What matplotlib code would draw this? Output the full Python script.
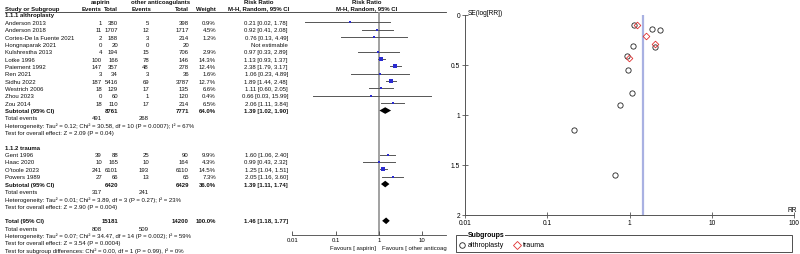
import matplotlib
matplotlib.use("Agg")
import matplotlib.pyplot as plt
from matplotlib.lines import Line2D

plt.rcParams['font.family'] = ['Liberation Sans', 'DejaVu Sans']

# data: althroplasty subgroup
studies_a = ["Anderson 2013", "Anderson 2018", "Cortes-De la Fuente 2021", "Hongnaparak 2021",
             "Kulshrestha 2013", "Lotke 1996", "Paiement 1992", "Ren 2021", "Sidhu 2022",
             "Westrich 2006", "Zhou 2023", "Zou 2014"]
ev_asp_a = [1, 11, 2, 0, 4, 100, 147, 3, 187, 18, 0, 18]
tot_asp_a = [380, 1707, 188, 20, 194, 166, 357, 34, 5416, 129, 60, 110]
ev_oth_a = [5, 12, 3, 0, 15, 78, 48, 3, 69, 17, 1, 17]
tot_oth_a = [398, 1717, 214, 20, 706, 146, 278, 36, 3787, 135, 120, 214]
weight_a = [0.9, 4.5, 1.2, None, 2.9, 14.3, 12.4, 1.6, 12.7, 6.6, 0.4, 6.5]
rr_a = [0.21, 0.92, 0.76, None, 0.97, 1.13, 2.38, 1.06, 1.89, 1.11, 0.66, 2.06]
lo_a = [0.02, 0.41, 0.13, None, 0.33, 0.93, 1.79, 0.23, 1.44, 0.60, 0.03, 1.11]
hi_a = [1.78, 2.08, 4.49, None, 2.89, 1.37, 3.17, 4.89, 2.48, 2.05, 15.99, 3.84]
se_a = [1.15, 0.41, 0.90, None, 0.55, 0.10, 0.15, 0.78, 0.14, 0.31, 1.60, 0.32]

# data: trauma subgroup
studies_t = ["Gent 1996", "Haac 2020", "O'toole 2023", "Powers 1989"]
ev_asp_t = [39, 10, 241, 27]
tot_asp_t = [88, 165, 6101, 66]
ev_oth_t = [25, 10, 193, 13]
tot_oth_t = [90, 164, 6110, 65]
weight_t = [9.9, 4.3, 14.5, 7.3]
rr_t = [1.60, 0.99, 1.25, 2.05]
lo_t = [1.06, 0.43, 1.04, 1.16]
hi_t = [2.40, 2.32, 1.51, 3.60]
se_t = [0.21, 0.43, 0.10, 0.29]

# pooled results: (row label, n aspirin, n other, weight, rr, lo, hi)
pooled = [("Subtotal (95% CI)", 8761, 7771, 64.0, 1.39, 1.02, 1.90),
          ("Subtotal (95% CI)", 6420, 6429, 36.0, 1.39, 1.11, 1.74),
          ("Total (95% CI)", 15181, 14200, 100.0, 1.46, 1.18, 1.77)]
pooled_events = [(491, 268), (317, 241), (808, 509)]
het_text = ["Heterogeneity: Tau² = 0.12; Chi² = 30.58, df = 10 (P = 0.0007); I² = 67%",
            "Heterogeneity: Tau² = 0.01; Chi² = 3.89, df = 3 (P = 0.27); I² = 23%",
            "Heterogeneity: Tau² = 0.07; Chi² = 34.47, df = 14 (P = 0.002); I² = 59%"]
effect_text = ["Test for overall effect: Z = 2.09 (P = 0.04)",
               "Test for overall effect: Z = 2.90 (P = 0.004)",
               "Test for overall effect: Z = 3.54 (P = 0.0004)"]
subgroup_text = "Test for subgroup differences: Chi² = 0.00, df = 1 (P = 0.99), I² = 0%"

forest_ticks = [0.01, 0.1, 1, 10]
funnel_xticks = [0.01, 0.1, 1, 10, 100]
funnel_yticks = [0, 0.5, 1, 1.5, 2]

# layout helpers (pixels)
FS = 4.3
Y0, DY = 16, 7.35


def ypix(row):
    return Y0 + DY * row


fig = plt.figure(figsize=(8, 2.55), dpi=100)
tab = fig.add_axes([0, 0, 1, 1])
tab.set_xlim(0, 800)
tab.set_ylim(255, 0)
tab.axis('off')


def txt(x, row, s, ha='left', bold=False):
    tab.text(x, ypix(row), s, ha=ha, va='center', fontsize=FS,
             fontweight='bold' if bold else 'normal', color='#111111')


# header
txt(101, -1.83, "aspirin", ha='center', bold=True)
txt(161, -1.83, "other anticoagulants", ha='center', bold=True)
txt(259, -1.83, "Risk Ratio", ha='center', bold=True)
txt(367, -1.83, "Risk Ratio", ha='center', bold=True)
txt(5, -0.95, "Study or Subgroup", bold=True)
txt(102, -0.95, "Events", ha='right', bold=True)
txt(118, -0.95, "Total", ha='right', bold=True)
txt(152, -0.95, "Events", ha='right', bold=True)
txt(189, -0.95, "Total", ha='right', bold=True)
txt(216, -0.95, "Weight", ha='right', bold=True)
txt(289, -0.95, "M-H, Random, 95% CI", ha='right', bold=True)
txt(367, -0.95, "M-H, Random, 95% CI", ha='center', bold=True)
tab.plot([5, 446], [12.7, 12.7], color='#333333', lw=0.6)

# forest axes
fax = fig.add_axes([292.4 / 800, (255 - 235.5) / 255, (446 - 292.4) / 800, (235.5 - 12.7) / 255])
fax.set_xscale('log')
fax.set_xlim(0.01, 35.2)
fax.set_ylim((235.5 - Y0) / DY, (12.7 - Y0) / DY)
fax.patch.set_visible(False)
for s in ['top', 'right', 'left']:
    fax.spines[s].set_visible(False)
fax.spines['bottom'].set_color('#444444')
fax.spines['bottom'].set_linewidth(0.6)
fax.set_yticks([])
fax.set_xticks(forest_ticks)
fax.set_xticklabels(["0.01", "0.1", "1", "10"])
fax.minorticks_off()
fax.tick_params(axis='x', direction='in', length=3, width=0.6, color='#444444',
                labelsize=FS, pad=2)
fax.axvline(1, color='#9a9a9a', lw=1.3, zorder=1)


def draw_block(start, names, ea, ta, eo, to, w, rr, lo, hi):
    for i, name in enumerate(names):
        r = start + i
        txt(5, r, name)
        txt(102, r, str(ea[i]), ha='right')
        txt(118, r, str(ta[i]), ha='right')
        txt(149, r, str(eo[i]), ha='right')
        txt(189, r, str(to[i]), ha='right')
        if rr[i] is None:
            txt(288, r, "Not estimable", ha='right')
            continue
        txt(216, r, "%.1f%%" % w[i], ha='right')
        txt(288, r, "%.2f [%.2f, %.2f]" % (rr[i], lo[i], hi[i]), ha='right')
        fax.plot([lo[i], hi[i]], [r, r], color='#555555', lw=0.7, zorder=2)
        fax.scatter([rr[i]], [r], marker='s', s=0.35 * w[i] + 0.8, color='#2a2ad0',
                    linewidths=0, zorder=3)


def draw_pooled(r, k):
    name, na, no, w, rr, lo, hi = pooled[k]
    txt(5, r, name, bold=True)
    txt(118, r, str(na), ha='right', bold=True)
    txt(189, r, str(no), ha='right', bold=True)
    txt(216, r, "%.1f%%" % w, ha='right', bold=True)
    txt(288, r, "%.2f [%.2f, %.2f]" % (rr, lo, hi), ha='right', bold=True)
    fax.fill([lo, rr, hi, rr], [r, r - 0.45, r, r + 0.45], color='black', lw=0, zorder=4)
    txt(5, r + 1, "Total events")
    txt(102, r + 1, str(pooled_events[k][0]), ha='right')
    txt(149, r + 1, str(pooled_events[k][1]), ha='right')
    txt(5, r + 2, het_text[k])
    txt(5, r + 3, effect_text[k])


txt(5, 0, "1.1.1 althroplasty", bold=True)
draw_block(1, studies_a, ev_asp_a, tot_asp_a, ev_oth_a, tot_oth_a, weight_a, rr_a, lo_a, hi_a)
draw_pooled(13, 0)
txt(5, 18, "1.1.2 trauma", bold=True)
draw_block(19, studies_t, ev_asp_t, tot_asp_t, ev_oth_t, tot_oth_t, weight_t, rr_t, lo_t, hi_t)
draw_pooled(23, 1)
draw_pooled(28, 2)
txt(5, 32, subgroup_text)

tab.text(376, 249, "Favours [ aspirin]", ha='right', va='center', fontsize=FS, color='#111111')
tab.text(382, 249, "Favours [ other anticoag", ha='left', va='center', fontsize=FS, color='#111111')

# funnel plot
fun = fig.add_axes([465 / 800, (255 - 215.5) / 255, (794 - 465) / 800, (215.5 - 16) / 255])
fun.set_xscale('log')
fun.set_xlim(0.01, 100)
fun.set_ylim(2, 0)
fun.patch.set_visible(False)
fun.spines['top'].set_visible(False)
fun.spines['right'].set_visible(False)
for s in ['left', 'bottom']:
    fun.spines[s].set_color('#555555')
    fun.spines[s].set_linewidth(0.7)
fun.set_xticks(funnel_xticks)
fun.set_xticklabels(["0.01", "0.1", "1", "10", "100"])
fun.set_yticks(funnel_yticks)
fun.set_yticklabels(["0", "0.5", "1", "1.5", "2"])
fun.minorticks_off()
fun.tick_params(direction='inout', length=4, width=0.6, color='#555555', labelsize=4.8, pad=1.5)
fun.axvline(pooled[2][4], color='#a9b1e2', lw=1.6, zorder=1)

xa = [rr_a[i] for i in range(len(rr_a)) if rr_a[i] is not None]
ya = [se_a[i] for i in range(len(se_a)) if se_a[i] is not None]
fun.plot(xa, ya, 'o', mfc='none', mec='#222222', ms=3.8, mew=0.6, zorder=3)
fun.plot(rr_t, se_t, 'D', mfc='none', mec='#e03030', ms=3.4, mew=0.6, zorder=3)
fun.text(468, 13.5, "SE(log[RR])", transform=tab.transData, fontsize=4.8, va='center', ha='left')
fun.text(792, 211, "RR", transform=tab.transData, fontsize=4.8, va='center', ha='center')

# legend box
tab.add_patch(plt.Rectangle((456, 236), 336, 17, fill=False, ec='#333333', lw=0.6))
tab.text(468, 236, "Subgroups", ha='left', va='center', fontsize=5, fontweight='bold',
         bbox=dict(facecolor='white', edgecolor='none', pad=0.3))
tab.add_line(Line2D([462], [245.5], marker='o', mfc='none', mec='#222222', ms=4, mew=0.6))
tab.text(468, 245.5, "althroplasty", ha='left', va='center', fontsize=5)
tab.add_line(Line2D([517], [245.5], marker='D', mfc='none', mec='#e03030', ms=3.6, mew=0.6))
tab.text(523, 245.5, "trauma", ha='left', va='center', fontsize=5)

fig.savefig("out.png", dpi=100)
